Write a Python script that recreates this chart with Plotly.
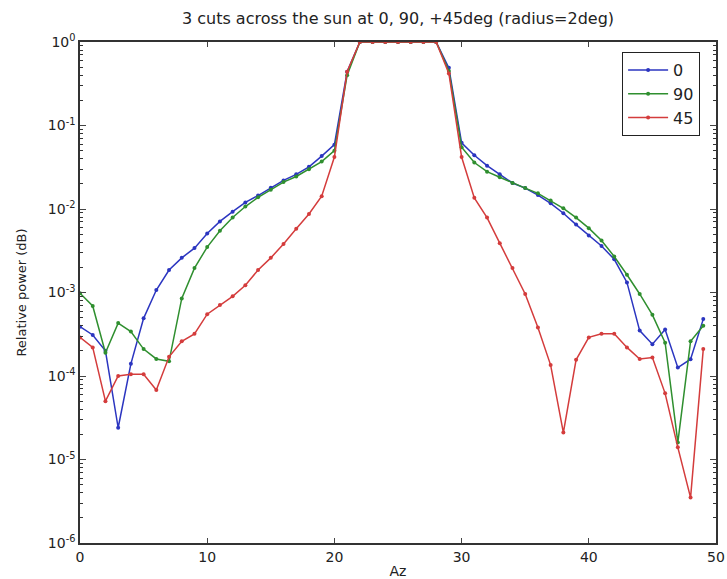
import plotly.graph_objects as go

az = list(range(50))

cut_0 = [3.9e-4, 3.1e-4, 2.0e-4, 2.4e-5, 1.4e-4, 4.9e-4, 1.07e-3, 1.86e-3, 2.6e-3, 3.4e-3,
         5.1e-3, 7.1e-3, 9.3e-3, 1.2e-2, 1.45e-2, 1.8e-2, 2.2e-2, 2.6e-2, 3.2e-2, 4.3e-2,
         5.9e-2, 4.4e-1, 1.0, 1.0, 1.0, 1.0, 1.0, 1.0, 1.0, 4.9e-1,
         6.2e-2, 4.4e-2, 3.3e-2, 2.6e-2, 2.05e-2, 1.78e-2, 1.47e-2, 1.17e-2, 8.9e-3, 6.5e-3,
         4.8e-3, 3.6e-3, 2.5e-3, 1.32e-3, 3.5e-4, 2.4e-4, 3.6e-4, 1.26e-4, 1.59e-4, 4.8e-4]

cut_90 = [9.8e-4, 6.9e-4, 1.9e-4, 4.3e-4, 3.4e-4, 2.1e-4, 1.6e-4, 1.5e-4, 8.5e-4, 1.96e-3,
          3.5e-3, 5.5e-3, 7.9e-3, 1.07e-2, 1.38e-2, 1.7e-2, 2.1e-2, 2.45e-2, 3.0e-2, 3.7e-2,
          5.0e-2, 4.0e-1, 1.0, 1.0, 1.0, 1.0, 1.0, 1.0, 1.0, 4.5e-1,
          5.5e-2, 3.6e-2, 2.8e-2, 2.4e-2, 2.05e-2, 1.78e-2, 1.54e-2, 1.26e-2, 1.02e-2, 7.9e-3,
          5.9e-3, 4.2e-3, 2.7e-3, 1.63e-3, 9.6e-4, 5.4e-4, 2.5e-4, 1.6e-5, 2.6e-4, 4.0e-4]

cut_45 = [2.9e-4, 2.2e-4, 5.0e-5, 1.0e-4, 1.05e-4, 1.05e-4, 6.8e-5, 1.7e-4, 2.6e-4, 3.2e-4,
          5.5e-4, 7.1e-4, 9.0e-4, 1.22e-3, 1.86e-3, 2.6e-3, 3.8e-3, 5.8e-3, 8.7e-3, 1.42e-2,
          4.2e-2, 4.4e-1, 1.0, 1.0, 1.0, 1.0, 1.0, 1.0, 1.0, 4.2e-1,
          4.2e-2, 1.36e-2, 7.9e-3, 3.9e-3, 1.96e-3, 9.6e-4, 3.8e-4, 1.35e-4, 2.1e-5, 1.56e-4,
          2.9e-4, 3.2e-4, 3.2e-4, 2.2e-4, 1.6e-4, 1.66e-4, 6.2e-5, 1.4e-5, 3.5e-6, 2.1e-4]

series_names = ["0", "90", "45"]
series_colors = ["#2b35c0", "#2f8f2f", "#d43c3c"]

x_ticks = [0, 10, 20, 30, 40, 50]
y_tick_vals = [1e-6, 1e-5, 1e-4, 1e-3, 1e-2, 1e-1, 1]
y_tick_text = ["10<sup>-6</sup>", "10<sup>-5</sup>", "10<sup>-4</sup>", "10<sup>-3</sup>",
               "10<sup>-2</sup>", "10<sup>-1</sup>", "10<sup>0</sup>"]

fig = go.Figure()
for name, ys, col in zip(series_names, [cut_0, cut_90, cut_45], series_colors):
    fig.add_trace(go.Scatter(
        x=az, y=ys, name=name, mode="lines+markers",
        line=dict(color=col, width=1.5),
        marker=dict(color=col, size=4),
    ))

minor_vals = [m * 10.0 ** e for e in range(-6, 0) for m in range(2, 10)]

font_family = "DejaVu Sans, Bitstream Vera Sans, sans-serif"
fig.update_layout(
    width=727, height=579,
    margin=dict(l=80, r=11, t=42, b=36),
    paper_bgcolor="white", plot_bgcolor="white",
    font=dict(family=font_family, size=14, color="#222"),
    title=dict(text="3 cuts across the sun at 0, 90, +45deg (radius=2deg)",
               x=0.5, xref="paper", xanchor="center",
               y=1 - 18 / 579, yref="container", yanchor="middle",
               font=dict(size=16, color="#222")),
    legend=dict(x=0.975, y=0.98, xanchor="right", yanchor="top",
                bordercolor="#222", borderwidth=1, bgcolor="white",
                font=dict(size=16), itemwidth=40, tracegroupgap=0),
    showlegend=True,
)
fig.update_xaxes(
    range=[0, 50], tickvals=x_ticks, ticks="inside", ticklen=5,
    showline=True, linecolor="#333", linewidth=1.5, mirror="ticks",
    showgrid=False, zeroline=False, automargin=False,
    title=dict(text="Az", font=dict(size=14), standoff=6),
    tickfont=dict(size=14),
)
fig.update_yaxes(
    type="log", range=[-6, 0], tickvals=y_tick_vals, ticktext=y_tick_text,
    ticks="inside", ticklen=6,
    showline=True, linecolor="#333", linewidth=1.5, mirror="ticks",
    showgrid=False, zeroline=False, automargin=False,
    minor=dict(tickvals=minor_vals, ticks="inside", ticklen=3, tickcolor="#333"),
    title=dict(text="Relative power (dB)", font=dict(size=13), standoff=18),
    tickfont=dict(size=14),
)

fig.write_html("out.html")
